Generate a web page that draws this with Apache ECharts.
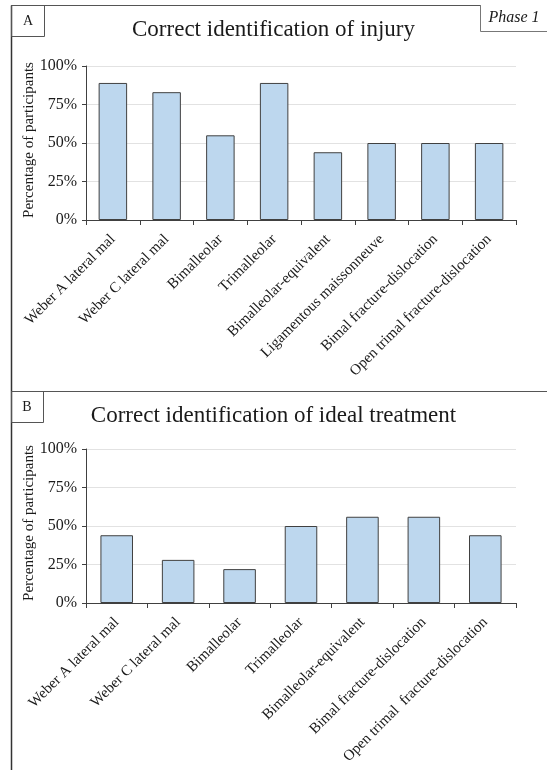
<!DOCTYPE html>
<html>
<head>
<meta charset="utf-8">
<script src="https://cdn.jsdelivr.net/npm/echarts@6/dist/echarts.min.js"></script>
<style>
  html, body { margin: 0; padding: 0; background: #ffffff; }
  #chart { width: 547px; height: 770px; }
</style>
</head>
<body>
<div id="chart"></div>
<script>
// Panel A: correct identification of injury type
const injuryCategories = [
  'Weber A lateral mal',
  'Weber C lateral mal',
  'Bimalleolar',
  'Trimalleolar',
  'Bimalleolar-equivalent',
  'Ligamentous maissonneuve',
  'Bimal fracture-dislocation',
  'Open trimal fracture-dislocation'
];
const injuryValues = [89, 83, 55, 89, 44, 50, 50, 50];

// Panel B: correct identification of ideal treatment
const treatmentCategories = [
  'Weber A lateral mal',
  'Weber C lateral mal',
  'Bimalleolar',
  'Trimalleolar',
  'Bimalleolar-equivalent',
  'Bimal fracture-dislocation',
  'Open trimal  fracture-dislocation'
];
const treatmentValues = [44, 28, 22, 50, 56, 56, 44];

const yTicks = [0, 25, 50, 75, 100];

const SERIF = '"Liberation Serif", "Times New Roman", serif';
const INK = '#1a1a1a';
const LINE = '#404040';

const chart = echarts.init(document.getElementById('chart'), null, { renderer: 'canvas' });

function xAxisFor(gridIndex, data) {
  return {
    type: 'category',
    gridIndex: gridIndex,
    data: data,
    boundaryGap: true,
    axisLine: { show: true, lineStyle: { color: LINE, width: 1 } },
    axisTick: { show: true, alignWithLabel: false, length: 5, lineStyle: { color: LINE } },
    axisLabel: {
      interval: 0,
      rotate: 45,
      margin: 17,
      color: INK,
      fontFamily: SERIF,
      fontSize: 15
    }
  };
}

function yAxisFor(gridIndex) {
  return {
    type: 'value',
    gridIndex: gridIndex,
    min: yTicks[0],
    max: yTicks[yTicks.length - 1],
    interval: yTicks[1] - yTicks[0],
    name: 'Percentage of participants',
    nameLocation: 'middle',
    nameGap: 49,
    nameMoveOverlap: false,
    nameTextStyle: { color: INK, fontFamily: SERIF, fontSize: 15, padding: [0, 0, 0, 6] },
    axisLine: { show: true, lineStyle: { color: LINE, width: 1 } },
    axisTick: { show: true, length: 4, lineStyle: { color: LINE } },
    axisLabel: {
      color: INK,
      fontFamily: SERIF,
      fontSize: 16,
      margin: 9,
      formatter: '{value}%'
    },
    splitLine: { show: true, lineStyle: { color: '#e2e2e2', width: 1 } }
  };
}

function barSeries(index, values) {
  return {
    type: 'bar',
    xAxisIndex: index,
    yAxisIndex: index,
    data: values,
    barWidth: '53%',
    itemStyle: { color: '#bdd7ee', borderColor: LINE, borderWidth: 1 },
    silent: true
  };
}

const titleStyle = { color: INK, fontFamily: SERIF, fontSize: 23, fontWeight: 'normal' };

chart.setOption({
  animation: false,
  backgroundColor: '#ffffff',
  title: [
    { text: 'Correct identification of injury', left: 'center', top: 13, textStyle: titleStyle },
    { text: 'Correct identification of ideal treatment', left: 'center', top: 399, textStyle: titleStyle }
  ],
  grid: [
    { left: 86, right: 31, top: 66, height: 154, containLabel: false },
    { left: 86, right: 31, top: 449, height: 154, containLabel: false }
  ],
  xAxis: [xAxisFor(0, injuryCategories), xAxisFor(1, treatmentCategories)],
  yAxis: [yAxisFor(0), yAxisFor(1)],
  series: [barSeries(0, injuryValues), barSeries(1, treatmentValues)],
  graphic: [
    // outer frame: left edge, top edge, separator between panels
    { type: 'line', shape: { x1: 11.5, y1: 5.5, x2: 11.5, y2: 770 }, style: { stroke: '#333', lineWidth: 1.5 } },
    { type: 'line', shape: { x1: 11, y1: 5.5, x2: 480.5, y2: 5.5 }, style: { stroke: '#555', lineWidth: 1 } },
    { type: 'line', shape: { x1: 11, y1: 391.5, x2: 547, y2: 391.5 }, style: { stroke: '#555', lineWidth: 1.2 } },
    // panel letter boxes
    { type: 'rect', shape: { x: 11.5, y: 5.5, width: 33, height: 31 }, style: { fill: 'none', stroke: '#555', lineWidth: 1 } },
    { type: 'text', x: 28, y: 21, style: { text: 'A', fill: INK, font: '14px ' + SERIF, align: 'center', verticalAlign: 'middle' } },
    { type: 'rect', shape: { x: 11.5, y: 391.5, width: 32, height: 31 }, style: { fill: 'none', stroke: '#555', lineWidth: 1 } },
    { type: 'text', x: 27, y: 407, style: { text: 'B', fill: INK, font: '14px ' + SERIF, align: 'center', verticalAlign: 'middle' } },
    // phase tag in the top right corner
    { type: 'polyline', shape: { points: [[480.5, 5], [480.5, 31.5], [547, 31.5]] }, style: { fill: 'none', stroke: '#777', lineWidth: 1 } },
    { type: 'text', x: 514, y: 18, style: { text: 'Phase 1', fill: INK, font: 'italic 16px ' + SERIF, align: 'center', verticalAlign: 'middle' } }
  ]
});
</script>
</body>
</html>
